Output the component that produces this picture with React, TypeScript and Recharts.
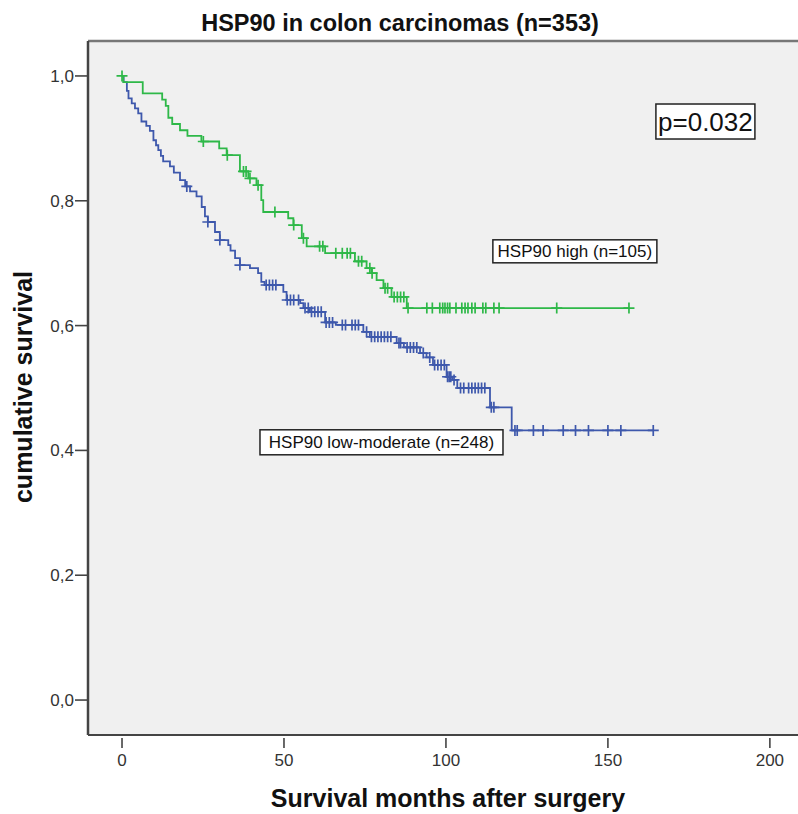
import React from 'react'
import {
  ComposedChart,
  Line,
  Scatter,
  XAxis,
  YAxis,
  CartesianGrid,
  ReferenceLine,
  ReferenceDot,
} from 'recharts'

// HSP90 high (n=105): step times (months) and cumulative survival
const highTimes = [0, 0.4, 6.4, 12.4, 13.5, 14.3, 15.5, 17.9, 20.2, 24.5, 30, 32.3, 36.4, 39, 41.5, 43, 43.6, 51.3, 52.9, 55.5, 57, 62.7, 71.9, 75.5, 77, 78.6, 80.7, 83.2, 87.9]
const highSurv = [1.0, 0.99, 0.972, 0.962, 0.952, 0.933, 0.923, 0.913, 0.904, 0.895, 0.884, 0.873, 0.847, 0.836, 0.825, 0.801, 0.782, 0.772, 0.761, 0.74, 0.727, 0.716, 0.703, 0.692, 0.684, 0.673, 0.66, 0.646, 0.628]
const highCensored = [0, 25.1, 32.5, 37.5, 38.3, 39.5, 42, 47.2, 53, 56, 61, 62, 66, 68, 69.5, 70.5, 73, 74, 76.5, 77.2, 81.2, 82, 84, 85, 86, 87, 88.3, 94.1, 95.8, 98.1, 99, 99.7, 100.5, 101.2, 103.1, 104.9, 105.9, 106.8, 108, 109, 111.4, 112.3, 114.8, 116.4, 134.2, 156.5]
const highEnd = 156.5

// HSP90 low-moderate (n=248)
const lowTimes = [0, 0.5, 1.5, 2, 3, 4, 5, 6, 7.5, 8.6, 9.7, 10.5, 11.2, 12, 12.7, 14.8, 16, 17.9, 19.5, 21, 23, 24.6, 25.6, 26.5, 28.7, 30.2, 32.8, 33.5, 34.9, 36.4, 39.5, 42, 43, 44, 49.8, 50.8, 55, 56, 58, 62.7, 66, 74.5, 76.5, 84.8, 87, 92, 94, 96, 100.2, 102, 103.5, 113.6, 120.3]
const lowSurv = [1.0, 0.99, 0.976, 0.964, 0.956, 0.948, 0.94, 0.927, 0.92, 0.912, 0.897, 0.889, 0.881, 0.872, 0.863, 0.855, 0.845, 0.833, 0.823, 0.815, 0.807, 0.79, 0.775, 0.766, 0.75, 0.737, 0.729, 0.72, 0.708, 0.697, 0.692, 0.684, 0.67, 0.665, 0.654, 0.641, 0.636, 0.628, 0.622, 0.605, 0.601, 0.59, 0.582, 0.572, 0.565, 0.556, 0.549, 0.537, 0.518, 0.513, 0.5, 0.469, 0.432]
const lowCensored = [20, 26.5, 30.2, 36.4, 44.5, 45.5, 46.5, 47.5, 51, 52, 53, 54.5, 56.5, 57.5, 58.5, 59.5, 60.5, 61.5, 63, 64, 65, 68, 69, 71, 72, 73, 75.5, 77, 78, 79, 80, 81, 82, 83, 85.5, 86, 88, 89, 90, 91, 93, 95, 96.5, 97.5, 98.5, 99.5, 100.5, 101, 101.5, 102.5, 104.5, 105.5, 107, 108, 109, 110, 111, 112, 114, 114.8, 121.3, 122, 127, 130, 136.2, 140, 144, 150, 154, 164]
const lowEnd = 164

const xTicks = [0, 50, 100, 150, 200]
const yTicks = [0, 0.2, 0.4, 0.6, 0.8, 1.0]

const BLUE = '#3E58AC'
const GREEN = '#2EB848'
const FONT = '"Liberation Sans", Arial, sans-serif'

const Y_MIN = -0.056
const Y_MAX = 1.056

function survivalAt(times: number[], surv: number[], t: number) {
  let s = surv[0]
  for (let i = 0; i < times.length; i++) {
    if (times[i] <= t) s = surv[i]
  }
  return s
}

function stepData(times: number[], surv: number[], end: number) {
  const d = times.map((t, i) => ({ t, s: surv[i] }))
  d.push({ t: end, s: surv[surv.length - 1] })
  return d
}

function censorData(times: number[], surv: number[], cens: number[]) {
  return cens.map(t => ({ t, s: survivalAt(times, surv, t) }))
}

const highLine = stepData(highTimes, highSurv, highEnd)
const lowLine = stepData(lowTimes, lowSurv, lowEnd)
const highCens = censorData(highTimes, highSurv, highCensored)
const lowCens = censorData(lowTimes, lowSurv, lowCensored)

const plus = (color: string) => (p: any) => (
  <path
    d={`M${p.cx - 5.5},${p.cy}H${p.cx + 5.5}M${p.cx},${p.cy - 5.5}V${p.cy + 5.5}`}
    stroke={color}
    strokeWidth={1.7}
    fill="none"
  />
)

const XTick = (p: any) => (
  <g>
    <line x1={p.x} x2={p.x} y1={p.y + 3} y2={p.y + 13} stroke="#444" strokeWidth={1.6} />
    <text x={p.x} y={p.y + 31} textAnchor="middle" fontSize={17} fill="#333" fontFamily={FONT}>
      {p.payload.value}
    </text>
  </g>
)

const YTick = (p: any) => (
  <g>
    <line x1={p.x - 13} x2={p.x - 1} y1={p.y} y2={p.y} stroke="#444" strokeWidth={1.6} />
    <text x={p.x - 14} y={p.y + 6} textAnchor="end" fontSize={17} fill="#333" fontFamily={FONT}>
      {Number(p.payload.value).toFixed(1).replace('.', ',')}
    </text>
  </g>
)

const boxLabel = (text: string, w: number, h: number, fontSize: number) => (p: any) => (
  <g>
    <rect x={p.cx - w / 2} y={p.cy - h / 2} width={w} height={h} fill="#fff" stroke="#222" strokeWidth={1.5} />
    <text
      x={p.cx}
      y={p.cy + fontSize * 0.36}
      textAnchor="middle"
      fontSize={fontSize}
      fill="#111"
      fontFamily={FONT}
    >
      {text}
    </text>
  </g>
)

export default function App() {
  return (
    <div style={{ position: 'absolute', left: 0, top: 0, width: 798, height: 814, overflow: 'hidden', background: '#fff', fontFamily: FONT }}>
      <div
        style={{
          position: 'absolute', left: 400, top: 12, transform: 'translateX(-50%)',
          fontSize: 23.5, lineHeight: 1, fontWeight: 'bold', color: '#111', whiteSpace: 'nowrap',
        }}
      >
        HSP90 in colon carcinomas (n=353)
      </div>
      <ComposedChart width={800} height={814} margin={{ top: 41, right: 0, bottom: 0, left: 0 }}>
        <CartesianGrid fill="#f0f0f0" horizontal={false} vertical={false} />
        <XAxis
          dataKey="t"
          type="number"
          domain={[-10.5, 209.3]}
          ticks={xTicks}
          allowDataOverflow
          height={79}
          tickSize={0}
          tickMargin={0}
          tickLine={false}
          axisLine={{ stroke: '#444', strokeWidth: 2 }}
          tick={XTick}
        />
        <YAxis
          type="number"
          domain={[Y_MIN, Y_MAX]}
          ticks={yTicks}
          allowDataOverflow
          width={88}
          tickSize={0}
          tickMargin={0}
          tickLine={false}
          axisLine={{ stroke: '#444', strokeWidth: 2.5 }}
          tick={YTick}
        />
        <ReferenceLine y={Y_MAX} stroke="#777" strokeWidth={2.5} ifOverflow="visible" />
        <Line data={lowLine} dataKey="s" type="stepAfter" stroke={BLUE} strokeWidth={1.8} dot={false} isAnimationActive={false} />
        <Line data={highLine} dataKey="s" type="stepAfter" stroke={GREEN} strokeWidth={1.8} dot={false} isAnimationActive={false} />
        <Scatter data={lowCens} dataKey="s" shape={plus(BLUE)} isAnimationActive={false} />
        <Scatter data={highCens} dataKey="s" shape={plus(GREEN)} isAnimationActive={false} />
        <ReferenceDot x={139.8} y={0.719} r={0} ifOverflow="visible" shape={boxLabel('HSP90 high (n=105)', 164, 23, 17)} />
        <ReferenceDot x={80.1} y={0.413} r={0} ifOverflow="visible" shape={boxLabel('HSP90 low-moderate (n=248)', 243, 25, 17)} />
        <ReferenceDot x={180.1} y={0.927} r={0} ifOverflow="visible" shape={boxLabel('p=0.032', 99, 35, 26)} />
      </ComposedChart>
      <div
        style={{
          position: 'absolute', left: 448, top: 786, transform: 'translateX(-50%)',
          fontSize: 25, lineHeight: 1, fontWeight: 'bold', color: '#111', whiteSpace: 'nowrap',
        }}
      >
        Survival months after surgery
      </div>
      <div
        style={{
          position: 'absolute', left: 23, top: 387, transform: 'translate(-50%, -50%) rotate(-90deg)',
          fontSize: 25, lineHeight: 1, fontWeight: 'bold', color: '#111', whiteSpace: 'nowrap',
        }}
      >
        cumulative survival
      </div>
    </div>
  )
}
